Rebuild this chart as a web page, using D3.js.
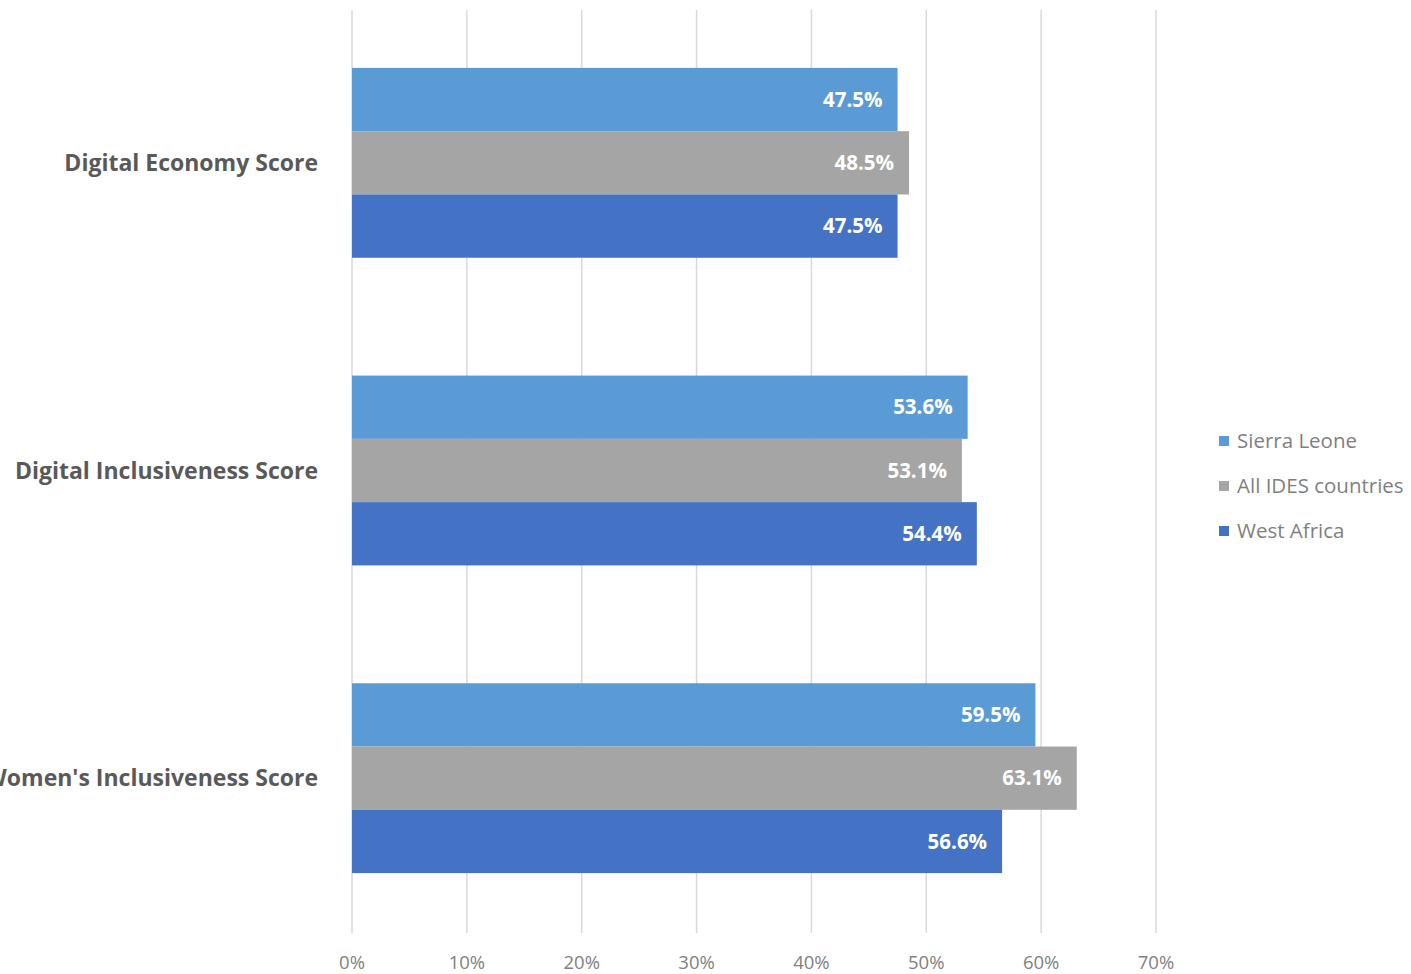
<!DOCTYPE html>
<html>
<head>
<meta charset="utf-8">
<script src="https://cdn.jsdelivr.net/npm/d3@7"></script>
<style>
  body { margin: 0; background: #fff; }
  text { font-family: "Open Sans", "Noto Sans", sans-serif; }
</style>
</head>
<body>
<div id="chart"></div>
<script>
var categories = ["Digital Economy Score", "Digital Inclusiveness Score", "Women's Inclusiveness Score"];
var series = ["Sierra Leone", "All IDES countries", "West Africa"];
var sierraLeone = [0.475, 0.536, 0.595];
var allIdes = [0.485, 0.531, 0.631];
var westAfrica = [0.475, 0.544, 0.566];
var ticks = [0, 0.1, 0.2, 0.3, 0.4, 0.5, 0.6, 0.7];
var colors = ["#5B9BD5", "#A5A5A5", "#4472C4"];

var values = [sierraLeone, allIdes, westAfrica];
var width = 1411, height = 974;

var svg = d3.select("#chart").append("svg")
    .attr("width", width)
    .attr("height", height);

var x = d3.scaleLinear().domain([0, 0.7]).range([352, 1156]);
var y = d3.scaleBand().domain(categories).range([9, 932])
    .paddingInner(0.383).paddingOuter(0.1915);
var ySub = d3.scaleBand().domain(series).range([0, y.bandwidth()]);

// gridlines
svg.append("g").selectAll("line")
    .data(ticks)
    .enter().append("line")
    .attr("x1", function(d) { return x(d); })
    .attr("x2", function(d) { return x(d); })
    .attr("y1", 10)
    .attr("y2", 933)
    .attr("stroke", "#d9d9d9")
    .attr("stroke-width", 1.5);

// tick labels
svg.append("g").selectAll("text")
    .data(ticks)
    .enter().append("text")
    .attr("x", function(d) { return x(d); })
    .attr("y", 963)
    .attr("dy", "0.35em")
    .attr("text-anchor", "middle")
    .attr("fill", "#7f7f7f")
    .style("font-size", "18.5px")
    .text(d3.format(".0%"));

// bars
var group = svg.append("g").selectAll("g")
    .data(categories)
    .enter().append("g")
    .attr("transform", function(c) { return "translate(0," + y(c) + ")"; });

group.each(function(c, ci) {
    var rows = series.map(function(s, si) {
        return { s: s, v: values[si][ci], color: colors[si] };
    });
    var g = d3.select(this);
    g.selectAll("rect")
        .data(rows)
        .enter().append("rect")
        .attr("x", x(0))
        .attr("y", function(d) { return ySub(d.s); })
        .attr("width", function(d) { return x(d.v) - x(0); })
        .attr("height", ySub.bandwidth())
        .attr("fill", function(d) { return d.color; });
    g.selectAll("text.val")
        .data(rows)
        .enter().append("text")
        .attr("class", "val")
        .attr("x", function(d) { return x(d.v) - 15; })
        .attr("y", function(d) { return ySub(d.s) + ySub.bandwidth() / 2; })
        .attr("dy", "0.35em")
        .attr("text-anchor", "end")
        .attr("fill", "#fff")
        .style("font-size", "20.5px")
        .style("font-weight", "bold")
        .text(function(d) { return d3.format(".1%")(d.v); });
});

// category labels
svg.append("g").selectAll("text")
    .data(categories)
    .enter().append("text")
    .attr("x", 318)
    .attr("y", function(c) { return y(c) + y.bandwidth() / 2; })
    .attr("dy", "0.35em")
    .attr("text-anchor", "end")
    .attr("fill", "#595959")
    .style("font-size", "23px")
    .style("font-weight", "bold")
    .text(function(c) { return c; });

// legend
var legend = svg.append("g").selectAll("g")
    .data(series)
    .enter().append("g")
    .attr("transform", function(d, i) { return "translate(1219," + (441 + i * 45) + ")"; });
legend.append("rect")
    .attr("x", 0).attr("y", -5)
    .attr("width", 10).attr("height", 10)
    .attr("fill", function(d, i) { return colors[i]; });
legend.append("text")
    .attr("x", 18)
    .attr("dy", "0.35em")
    .attr("fill", "#7f7f7f")
    .style("font-size", "20.5px")
    .text(function(d) { return d; });
</script>
</body>
</html>
